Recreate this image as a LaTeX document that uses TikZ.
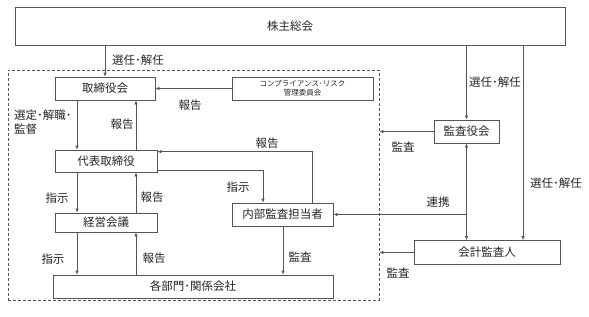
\documentclass[tikz,border=0pt]{standalone}
\usepackage{fontspec}
\newfontfamily\jp{Noto Sans CJK JP}
\usetikzlibrary{arrows.meta,calc}
\definecolor{lncol}{HTML}{555555}
\begin{document}
\begin{tikzpicture}[x=1pt,y=-1pt,
  every node/.style={font=\jp\fontsize{11.5}{13.5}\selectfont, text=black!85, inner sep=0pt},
  bx/.style={draw=lncol, line width=0.7pt, rectangle, align=center},
  grpbox/.style={draw=lncol, line width=0.7pt, dashed, dash pattern=on 3pt off 2pt, rectangle},
  arr/.style={draw=lncol, line width=0.7pt, -{Latex[length=4pt,width=3.5pt]}},
  arrtwo/.style={draw=lncol, line width=0.7pt, {Latex[length=4pt,width=3.5pt]}-{Latex[length=4pt,width=3.5pt]}},
  lbl/.style={font=\jp\fontsize{11.5}{13.5}\selectfont}
]
\useasboundingbox (0,0) rectangle (589,316);
\fill[white] (0,0) rectangle (589,316);

% group
\node[grpbox, minimum width=371pt, minimum height=230pt] (grp) at (193.5,185) {};

% boxes
\node[bx, minimum width=550pt, minimum height=38pt] (top) at (290,26) {株主総会};
\node[bx, minimum width=100pt, minimum height=23pt] (tori) at (105,88.5) {取締役会};
\node[bx, minimum width=141pt, minimum height=23pt, font=\jp\fontsize{7.5}{9}\selectfont] (comp) at (302.5,88.5) {コンプライアンス･リスク\\管理委員会};
\node[bx, minimum width=102pt, minimum height=22pt] (daihyo) at (106,161) {代表取締役};
\node[bx, minimum width=102pt, minimum height=19pt] (keiei) at (106,222.5) {経営会議};
\node[bx, minimum width=101pt, minimum height=23pt] (naibu) at (282.5,214.5) {内部監査担当者};
\node[bx, minimum width=280pt, minimum height=23pt] (kakubu) at (193,286.5) {各部門･関係会社};
\node[bx, minimum width=65pt, minimum height=23pt] (kansayaku) at (466.5,131.5) {監査役会};
\node[bx, minimum width=146pt, minimum height=24pt] (kaikei) at (487,252.5) {会計監査人};

% x positions
\coordinate (xa) at (77,0);
\coordinate (xb) at (136,0);
\coordinate (xc) at (263,0);
\coordinate (xd) at (312,0);
\coordinate (xe) at (283,0);
\coordinate (xf) at (523,0);

% connectors
\draw[arr] (top.south -| tori.north) -- (tori.north);
\draw[arr] (comp.west) -- (tori.east);
\draw[arr] (tori.south -| xa) -- (daihyo.north -| xa);
\draw[arr] (daihyo.north -| xb) -- (tori.south -| xb);
\draw[arr] (naibu.north -| xd) |- ($(daihyo.north east)+(0,2)$);
\draw[arr] ($(daihyo.south east)+(0,-2)$) -| (naibu.north -| xc);
\draw[arr] (daihyo.south -| xa) -- (keiei.north -| xa);
\draw[arr] (keiei.north -| xb) -- (daihyo.south -| xb);
\draw[arr] (keiei.south -| xa) -- (kakubu.north -| xa);
\draw[arr] (kakubu.north -| xb) -- (keiei.south -| xb);
\draw[arr] (naibu.south -| xe) -- (kakubu.north -| xe);
\draw[arr] (top.south -| kansayaku.north) -- (kansayaku.north);
\draw[arr] (kansayaku.west) -- (kansayaku.west -| grp.east);
\draw[arrtwo] (kansayaku.south) -- (kansayaku.south |- kaikei.north);
\draw[arr] (kansayaku.south |- naibu.east) -- (naibu.east);
\draw[arr] (top.south -| xf) -- (kaikei.north -| xf);
\draw[arr] (kaikei.west) -- (kaikei.west -| grp.east);

% labels
\node[lbl] (l1) at (138,60) {選任･解任};
\node[lbl] (l2) at (190,105) {報告};
\node[lbl, anchor=north west, align=left] (l3) at (14,110) {選定･解職･\\監督};
\node[lbl] (l4) at (122,124) {報告};
\node[lbl] (l5) at (267,143) {報告};
\node[lbl] (l6) at (57,198) {指示};
\node[lbl] (l7) at (152,197) {報告};
\node[lbl] (l8) at (238,187) {指示};
\node[lbl] (l9) at (53,259) {指示};
\node[lbl] (l10) at (154,258) {報告};
\node[lbl] (l11) at (300,257) {監査};
\node[lbl] (l12) at (495,82) {選任･解任};
\node[lbl] (l13) at (403,147) {監査};
\node[lbl] (l14) at (438,202) {連携};
\node[lbl] (l15) at (556,183) {選任･解任};
\node[lbl] (l16) at (398,273) {監査};
\end{tikzpicture}
\end{document}
